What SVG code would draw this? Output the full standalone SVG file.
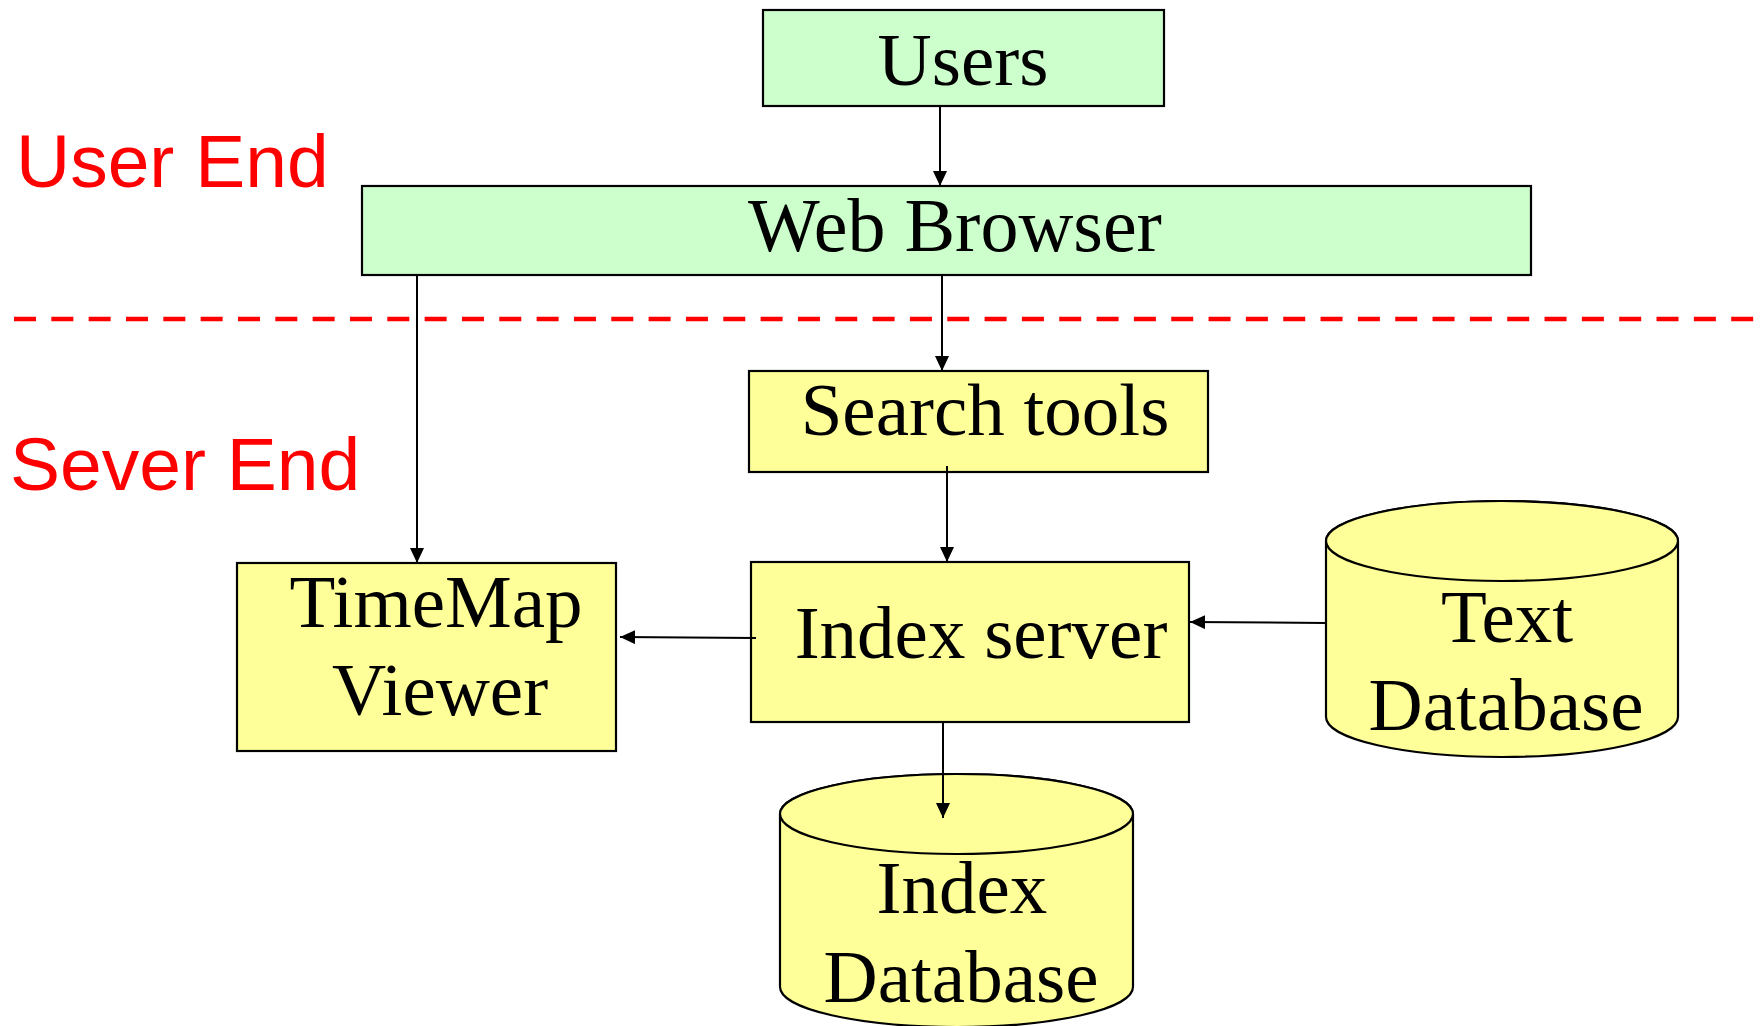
<svg xmlns="http://www.w3.org/2000/svg" width="1761" height="1026" viewBox="0 0 1761 1026">
<style>
.box{stroke:#000;stroke-width:2.2}
.green{fill:#CCFFCC}
.yellow{fill:#FFFF99}
.lbl{font-family:"Liberation Serif","Times New Roman",serif;font-size:75px;fill:#000;text-anchor:middle}
.wide{font-size:76px}
.zone{font-family:"Liberation Sans",Arial,sans-serif;font-size:75px;fill:#FF0000}
.conn{stroke:#000;stroke-width:2;fill:none;marker-end:url(#arrow)}
</style>
<defs>
<marker id="arrow" markerUnits="userSpaceOnUse" markerWidth="16" markerHeight="15" refX="15" refY="7" orient="auto">
<path d="M0,0 L15,7 L0,14 z" fill="#000"/>
</marker>
</defs>
<rect width="1761" height="1026" fill="#fff"/>
<g id="zones">
<text class="zone" x="16" y="187">User End</text>
<text class="zone" x="10" y="490">Sever End</text>
<line x1="14" y1="319" x2="1755" y2="319" stroke="#FF0000" stroke-width="4.5" stroke-dasharray="22 15.33"/>
</g>
<g id="users">
<rect class="box green" x="763" y="10" width="401" height="96"/>
<text class="lbl" x="963" y="85">Users</text>
</g>
<g id="web-browser">
<rect class="box green" x="362" y="186" width="1169" height="89"/>
<text class="lbl wide" x="955" y="251">Web Browser</text>
</g>
<g id="search-tools">
<rect class="box yellow" x="749" y="371" width="459" height="101"/>
<text class="lbl" x="985" y="435">Search tools</text>
</g>
<g id="index-server">
<rect class="box yellow" x="751" y="562" width="438" height="160"/>
<text class="lbl" x="981" y="658">Index server</text>
</g>
<g id="timemap-viewer">
<rect class="box yellow" x="237" y="563" width="379" height="188"/>
<text class="lbl" x="436" y="627">TimeMap</text>
<text class="lbl" x="440" y="715">Viewer</text>
</g>
<g id="text-database">
<path class="box yellow" d="M1326,541 L1326,717 A176,40 0 0 0 1678,717 L1678,541 A176,40 0 0 0 1326,541 Z"/>
<ellipse class="box yellow" cx="1502" cy="541" rx="176" ry="40"/>
<text class="lbl" x="1507" y="642">Text</text>
<text class="lbl" x="1506" y="730">Database</text>
</g>
<g id="index-database">
<path class="box yellow" d="M780,814 L780,987 A176.5,40 0 0 0 1133,987 L1133,814 A176.5,40 0 0 0 780,814 Z"/>
<ellipse class="box yellow" cx="956.5" cy="814" rx="176.5" ry="40"/>
<text class="lbl" x="962" y="913">Index</text>
<text class="lbl" x="961" y="1002">Database</text>
</g>
<g id="connectors">
<line class="conn" x1="940" y1="107" x2="940" y2="186"/>
<line class="conn" x1="942" y1="276" x2="942" y2="371"/>
<line class="conn" x1="417" y1="276" x2="417" y2="563"/>
<line class="conn" x1="947" y1="466" x2="947" y2="562"/>
<line class="conn" x1="756" y1="638" x2="620" y2="637"/>
<line class="conn" x1="1326" y1="623" x2="1190" y2="622"/>
<line class="conn" x1="943" y1="723" x2="943" y2="818"/>
</g>
</svg>
